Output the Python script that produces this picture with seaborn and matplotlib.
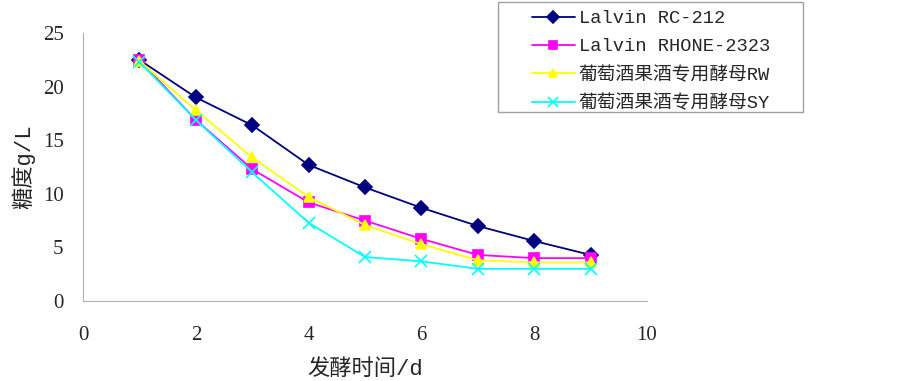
import pandas as pd
import numpy as np
import matplotlib.pyplot as plt
import seaborn as sns
from matplotlib.patches import Rectangle

# fermentation day
days = [1, 2, 3, 4, 5, 6, 7, 8, 9]

# sugar content g/L for each yeast
rc212 = [22.5, 19.0, 16.4, 12.7, 10.6, 8.7, 7.0, 5.6, 4.3]
rhone = [22.5, 16.9, 12.3, 9.2, 7.5, 5.8, 4.3, 4.0, 4.0]
rw = [22.4, 17.8, 13.4, 9.7, 7.1, 5.3, 3.8, 3.6, 3.6]
sy = [22.3, 16.9, 12.0, 7.3, 4.1, 3.7, 3.0, 3.0, 3.0]

names = ['Lalvin RC-212', 'Lalvin RHONE-2323', '葡萄酒果酒专用酵母RW', '葡萄酒果酒专用酵母SY']
colors = ['#000080', '#ff00ff', '#ffff00', '#00ffff']
markers = ['D', 's', '^', 'x']

df = pd.DataFrame({
    'day': days * 4,
    'sugar': rc212 + rhone + rw + sy,
    'yeast': np.repeat(names, len(days)),
})

sns.set_style('white')
plt.rcParams['font.family'] = ['Liberation Serif', 'Noto Sans CJK SC']
cjk = ['Liberation Mono', 'Noto Sans CJK SC']

fig = plt.figure(figsize=(9.03, 3.81), dpi=100)
ax = fig.add_axes([0.092, 0.21, 0.6245, 0.703])

for name, c, m in zip(names, colors, markers):
    sns.lineplot(data=df[df['yeast'] == name], x='day', y='sugar', color=c,
                 marker=m, markersize=7 if m != 'x' else 8, markeredgecolor=c,
                 markeredgewidth=1.2, linewidth=1.3, label=name, ax=ax, legend=False)

ax.set_xlim(0, 10)
ax.set_ylim(0, 25)
ax.set_xticks(range(0, 11, 2))
ax.set_yticks(range(0, 26, 5))
ax.tick_params(direction='in', length=6, color='#b0b0b0', labelsize=15)
ax.tick_params(axis='x', pad=18)
ax.tick_params(axis='y', pad=14)
for s in ['top', 'right']:
    ax.spines[s].set_visible(False)
for s in ['left', 'bottom']:
    ax.spines[s].set_color('#b0b0b0')
ax.set_xlabel('发酵时间/d', fontsize=16, family=cjk, labelpad=10)
ax.set_ylabel('糖度g/L', fontsize=16, family=cjk, labelpad=5)

# legend box drawn separately (wider left padding than the text block)
fig.patches.append(Rectangle((0.5515, 0.706), 0.3378, 0.29, transform=fig.transFigure,
                             fill=False, edgecolor='#a0a0a0', linewidth=1.0))

handles, labels = ax.get_legend_handles_labels()
leg = fig.legend(handles, labels, loc='upper left', bbox_to_anchor=(0.589, 0.973),
                 frameon=False, handlelength=2.3, handletextpad=0.2,
                 borderpad=0, labelspacing=0.58, borderaxespad=0, markerscale=0.85,
                 prop={'family': cjk, 'size': 13.5})

fig.savefig('out.png', dpi=100)
